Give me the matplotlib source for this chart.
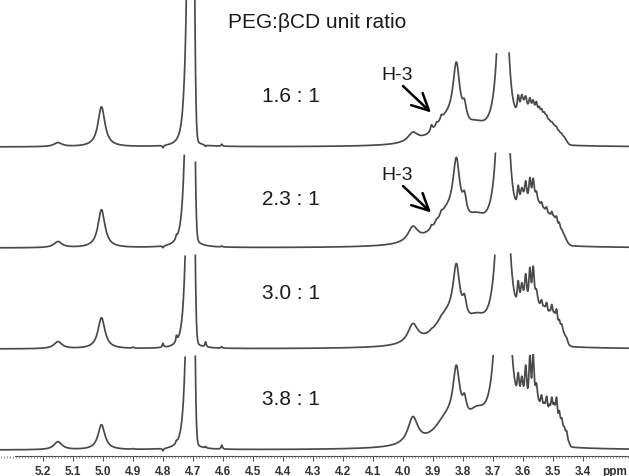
import numpy as np
import matplotlib.pyplot as plt
from matplotlib.ticker import FixedLocator, MultipleLocator

plt.rcParams['font.family'] = ['Liberation Sans', 'DejaVu Sans']

# Sample labels, one per stacked spectrum (top to bottom)
ratio_labels = ['1.6 : 1', '2.3 : 1', '3.0 : 1', '3.8 : 1']

# Axis ticks (ppm)
tick_ppm = [5.2, 5.1, 5.0, 4.9, 4.8, 4.7, 4.6, 4.5, 4.4, 4.3,
            4.2, 4.1, 4.0, 3.9, 3.8, 3.7, 3.6, 3.5, 3.4]
tick_labels = ['5.2', '5.1', '5.0', '4.9', '4.8', '4.7', '4.6', '4.5', '4.4',
               '4.3', '4.2', '4.1', '4.0', '3.9', '3.8', '3.7', '3.6', '3.5',
               '3.4']

# Lorentzian resonances: centre (ppm), half width (ppm)
peak_centres = [5.150, 5.005, 4.724, 3.967, 3.905, 3.888, 3.872,
                3.855, 3.822, 3.795, 3.755, 3.667]
peak_widths = [0.016, 0.014, 0.010, 0.020, 0.004, 0.004, 0.004,
               0.050, 0.014, 0.008, 0.040, 0.0136]
peak_heights = [
    [4, 40, 80, 9.5, 6, 3, 4, 23, 62, 16, 12, 300],
    [6, 38, 110, 15, 3, 2, 3, 29, 61, 19, 18, 374],
    [7, 31, 80, 19, 1, 0, 1, 27, 57, 18, 18, 416],
    [8, 25, 80, 27, 0, 0, 0, 24, 56, 17, 23, 557],
]

# HOD singlet (gaussian core)
hod_centre = 4.707
hod_sigma = 0.0068
hod_height = 900

# Small sharp impurity / artefact lines
spike_centres = [4.900, 4.800, 4.755, 4.658, 4.604]
spike_width = 0.0025
spike_heights = [
    [0, -2.5, 0, -1.5, 2],
    [0, -2, 3, 0, 1],
    [1, 4, 6, 5, 1.5],
    [0.5, -2.5, 2, 1.5, 4],
]

# Broad envelope under the 3.4-3.6 ppm multiplets
env_centres = [3.600, 3.565, 3.530, 3.495, 3.465]
env_sigmas = [0.016, 0.016, 0.016, 0.016, 0.010]
env_heights = [
    [30, 30, 24, 16, 5],
    [34, 42, 28, 22, 8],
    [34, 45, 28, 25, 10],
    [33, 45, 28, 28, 12],
]

# Fine multiplet lines, 3.45-3.62 ppm
line_centres = [3.616, 3.604, 3.591, 3.577, 3.566, 3.555, 3.546, 3.538,
                3.529, 3.521, 3.512, 3.504, 3.496, 3.488, 3.479, 3.471,
                3.462, 3.454, 3.446]
line_sigma = 0.0028
line_heights = [
    [11.5, 6.4, 6.4, 7.4, 5.3, 7.3, 6, 4.9, 3, 2.9, 2, 2.2, 1, 2.1, 2, 2,
     1.5, 1, 0],
    [14, 6, 13, 16, 13.5, 6, 2, 5, 1, 5.7, 3, 6.4, 3.3, 7, 6, 2, 0, 0, 0],
    [17, 10, 19, 24, 23, 6, 0, 7, 3.5, 10, 5, 11.5, 5, 12, 7, 5.6, 0, 2, 0],
    [17, 12, 25, 34, 33, 11, 1, 11, 6, 15, 9, 16, 11, 21, 13.5, 9, 5, 8, 2],
]


def lorentz(x, c, g, h):
    return h / (1 + ((x - c) / g) ** 2)


def gauss(x, c, s, h):
    return h * np.exp(-0.5 * ((x - c) / s) ** 2)


def spectrum(ppm, i):
    """Sum of all line shapes for trace i."""
    y = np.zeros_like(ppm)
    for c, g, h in zip(peak_centres, peak_widths, peak_heights[i]):
        y += lorentz(ppm, c, g, h)
    y += gauss(ppm, hod_centre, hod_sigma, hod_height)
    for c, h in zip(spike_centres, spike_heights[i]):
        y += lorentz(ppm, c, spike_width, h)
    for c, s, h in zip(env_centres, env_sigmas, env_heights[i]):
        y += gauss(ppm, c, s, h)
    for c, h in zip(line_centres, line_heights[i]):
        y += gauss(ppm, c, line_sigma, h)
    return y


def px(x):
    # horizontal pixel position -> ppm
    return 5.2 - (x - 43) / 300


def main():
    fig = plt.figure(figsize=(6.29, 4.77), dpi=100)
    ax = fig.add_axes([0, 20 / 477, 1, 457 / 477])
    ax.set_xlim(px(0), px(629))
    ax.set_ylim(457, 0)

    ppm = np.arange(px(629), px(0), 0.0004)
    baselines = [148, 249, 350, 451]
    hod_caps = [170, 95, 95, 95]

    for i, base in enumerate(baselines):
        y = spectrum(ppm, i)
        # tall peaks are cut off before they run into the trace above
        cap = np.where(np.abs(ppm - hod_centre) < 0.05, hod_caps[i], 95)
        y = np.where(y > cap, np.nan, y)
        ax.plot(ppm, base - y, color='#4a4a4a', lw=1.25)

    # ratio labels
    label_baselines = [101.5, 205, 299.5, 405]
    for text, yb in zip(ratio_labels, label_baselines):
        ax.text(px(262), yb, text, fontsize=15, color='#1a1a1a',
                ha='left', va='baseline')

    ax.text(px(317), 28.5, 'PEG:\u03b2CD unit ratio', fontsize=15,
            color='#1a1a1a', ha='center', va='baseline')

    # H-3 annotations on the two upper traces
    for dy in (0, 100):
        ax.text(px(381), 80 + dy, 'H-3', fontsize=14, color='#1a1a1a',
                ha='left', va='baseline')
        ax.annotate('', xy=(px(431), 113.5 + dy),
                    xytext=(px(403), 87 + dy),
                    arrowprops=dict(arrowstyle='->,head_length=0.6,'
                                               'head_width=0.3',
                                    lw=1.8, color='black',
                                    mutation_scale=20,
                                    shrinkA=0, shrinkB=0))

    # ppm axis
    for side in ('left', 'right', 'top'):
        ax.spines[side].set_visible(False)
    ax.spines['bottom'].set_bounds(px(15), px(629))
    ax.spines['bottom'].set_color('#555555')
    ax.spines['bottom'].set_linewidth(0.8)
    ax.yaxis.set_visible(False)
    ax.xaxis.set_major_locator(FixedLocator(tick_ppm))
    ax.xaxis.set_minor_locator(MultipleLocator(0.01))
    ax.set_xticklabels(tick_labels, fontweight='bold')
    ax.tick_params(axis='x', which='major', length=3.6, width=0.8,
                   color='#555555', labelsize=8.5, labelcolor='#333333',
                   pad=3.2)
    ax.tick_params(axis='x', which='minor', length=1.5, width=0.6,
                   color='#777777')
    ax.text(px(602), 475, 'ppm', fontsize=8.5, fontweight='bold',
            color='#333333', ha='left', va='baseline')

    fig.savefig('out.png', dpi=100, facecolor='white')


if __name__ == '__main__':
    main()
